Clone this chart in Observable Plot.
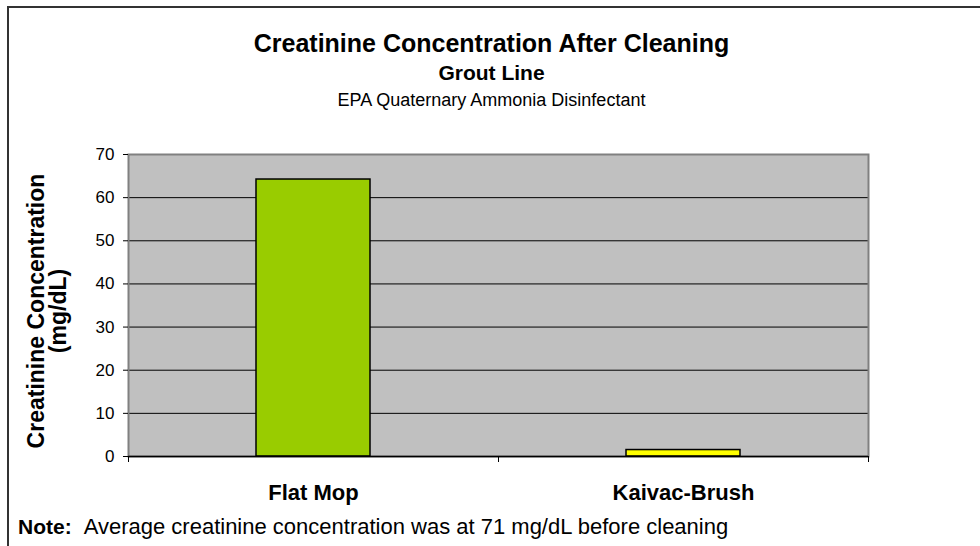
<!DOCTYPE html>
<html><head><meta charset="utf-8">
<script src="https://cdn.jsdelivr.net/npm/d3@7"></script>
<script src="https://cdn.jsdelivr.net/npm/@observablehq/plot@0.6"></script>
<style>
body{margin:0;background:#fff;font-family:"Liberation Sans",Arial,sans-serif;}
#wrap{position:relative;width:980px;height:546px;overflow:hidden;background:#fff;}
.frame{position:absolute;left:7px;top:6px;width:1000px;height:600px;border-left:2px solid #333;border-top:2px solid #333;}
.t{position:absolute;left:8px;width:967px;text-align:center;white-space:nowrap;color:#000;}
#plot{position:absolute;left:0;top:140px;}
.ylab{position:absolute;left:-103px;top:289px;width:300px;text-align:center;transform:rotate(-90deg);font-weight:bold;font-size:23px;line-height:22px;white-space:nowrap;}
.note{position:absolute;left:18px;top:516px;font-size:21px;line-height:21px;white-space:nowrap;}
</style></head>
<body>
<div id="wrap">
  <div class="frame"></div>
  <div class="t" style="top:31px;font-size:25px;line-height:25px;font-weight:bold;">Creatinine Concentration After Cleaning</div>
  <div class="t" style="top:62px;font-size:21px;line-height:21px;font-weight:bold;">Grout Line</div>
  <div class="t" style="top:91px;font-size:18px;line-height:18px;">EPA Quaternary Ammonia Disinfectant</div>
  <div class="ylab">Creatinine Concentration<br>(mg/dL)</div>
  <div id="plot"></div>
  <div class="note"><b>Note:</b><span style="display:inline-block;width:12px"></span><span style="font-size:22px">Average creatinine concentration was at 71 mg/dL before cleaning</span></div>
</div>
<script>
const categories = ["Flat Mop", "Kaivac-Brush"];
const values = [64.2, 1.5];
const barColors = ["#99CC00", "#FFFF00"];
const yTicks = [0, 10, 20, 30, 40, 50, 60, 70];

const data = categories.map((c, i) => ({category: c, value: values[i]}));

const W = 980, H = 380, ML = 128, MR = 112, MT = 14, MB = 64;
const halfStep = (W - ML - MR) / categories.length / 2;

const chart = Plot.plot({
  width: W,
  height: H,
  marginLeft: ML,
  marginRight: MR,
  marginTop: MT,
  marginBottom: MB,
  style: {fontFamily: "'Liberation Sans', Arial, sans-serif", fontSize: "17px", color: "#000", background: "transparent"},
  x: {domain: categories, paddingInner: 0.692, paddingOuter: 0.346, label: null},
  y: {domain: [0, 70], label: null},
  color: {domain: categories, range: barColors},
  marks: [
    Plot.frame({fill: "#C0C0C0", stroke: null}),
    Plot.gridY(yTicks, {stroke: "#000", strokeOpacity: 1, strokeWidth: 1}),
    Plot.frame({stroke: "#808080", strokeWidth: 2}),
    Plot.barY(data, {x: "category", y: "value", fill: "category", stroke: "#000", strokeWidth: 1.5}),
    Plot.ruleY([0], {stroke: "#000", strokeWidth: 1.5}),
    Plot.ruleX(categories, {x: d => d, dx: -halfStep, y1: d => 0, y2: d => 0, insetBottom: -6, stroke: "#000"}),
    Plot.ruleX(categories.slice(-1), {x: d => d, dx: halfStep, y1: d => 0, y2: d => 0, insetBottom: -6, stroke: "#000"}),
    Plot.axisY(yTicks, {tickSize: 5, tickPadding: 9, fontSize: 17, stroke: "#000"}),
    Plot.ruleX([0], {frameAnchor: "left", stroke: "#000", strokeWidth: 1.5}),
    Plot.axisX({tickSize: 0, tickPadding: 28, fontSize: 22, fontWeight: "bold"})
  ]
});
document.getElementById("plot").appendChild(chart);
</script>
</body></html>
